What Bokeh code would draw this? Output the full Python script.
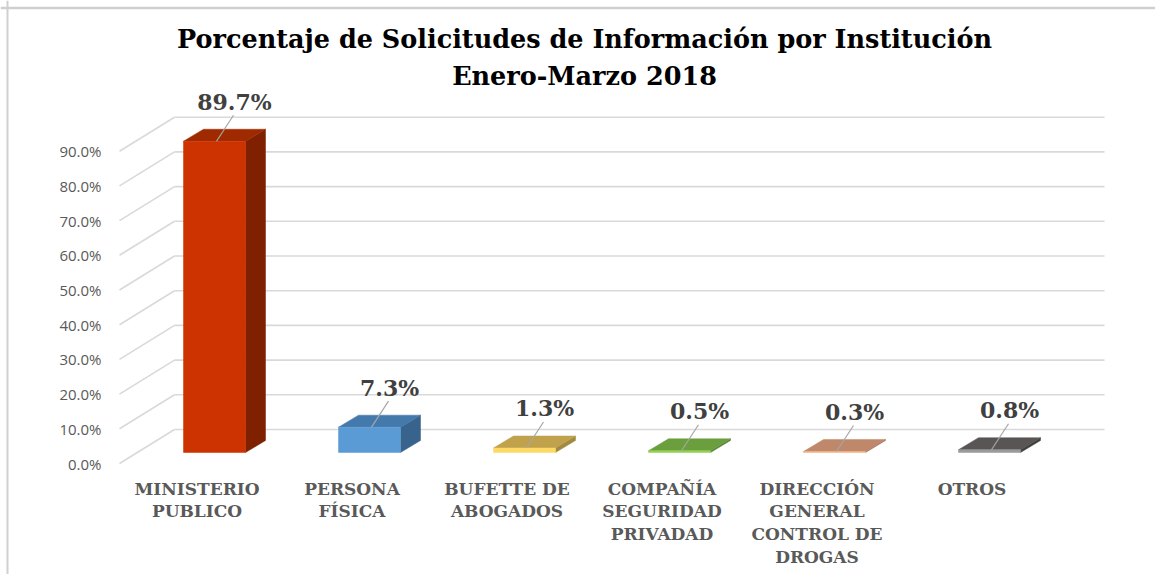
from bokeh.plotting import figure
from bokeh.models import Range1d, Span
from bokeh.core.properties import value
from bokeh.embed import file_html
from bokeh.resources import INLINE

# ---------------- data ----------------
categories = [
    "MINISTERIO\nPUBLICO",
    "PERSONA\nFÍSICA",
    "BUFETTE DE\nABOGADOS",
    "COMPAÑÍA\nSEGURIDAD\nPRIVADAD",
    "DIRECCIÓN\nGENERAL\nCONTROL DE\nDROGAS",
    "OTROS",
]
values = [89.7, 7.3, 1.3, 0.5, 0.3, 0.8]
tick_values = [0, 10, 20, 30, 40, 50, 60, 70, 80, 90]
tick_labels = ["0.0%", "10.0%", "20.0%", "30.0%", "40.0%", "50.0%",
               "60.0%", "70.0%", "80.0%", "90.0%"]
title_lines = ["Porcentaje de Solicitudes de Información por Institución",
               "Enero-Marzo 2018"]

front_colors = ["#cc3300", "#5b9bd5", "#ffd966", "#92d050", "#f4b183", "#9a9a9a"]
top_colors = ["#a02a00", "#4479ab", "#bfa24b", "#6b9f3e", "#c0886a", "#595555"]
side_colors = ["#7f2100", "#38638c", "#a08a40", "#56823a", "#9c6e55", "#3f3f3f"]

# ---------------- geometry (pixel based pseudo-3D) ----------------
W, H = 1155, 574
PXX = 155.0   # px per category
PXY = 3.47    # px per percent point
X0 = 136.5    # figure px of x = 0
Y0 = 452.0    # figure px (from top) of y = 0


def px_x(px):
    return px / PXX


def px_y(px):
    return px / PXY


BW = 0.4                          # bar width (category units)
DX, DY = px_x(20), px_y(12)       # bar depth
FX, FY = -px_x(17.5), -px_y(11)   # front edge of floor / side wall
BX, BY = px_x(37.5), px_y(23)     # back wall

n = len(values)
xs = [i + 0.5 for i in range(n)]

p = figure(width=W, height=H,
           x_range=Range1d(-X0 / PXX, (W - X0) / PXX),
           y_range=Range1d((Y0 - H) / PXY, Y0 / PXY),
           output_backend="svg", toolbar_location=None,
           x_axis_location=None, y_axis_location=None,
           min_border=0)
p.outline_line_color = None
p.background_fill_color = "white"
p.border_fill_color = "white"
for g in p.grid:
    g.visible = False

# chart border (top / left visible inside the window)
p.add_layout(Span(location=(Y0 - 7.5) / PXY, dimension="width",
                  line_color="#cfcfcf", line_width=2.5))
p.add_layout(Span(location=(7 - X0) / PXX, dimension="height",
                  line_color="#d0d0d0", line_width=2))

# gridlines: back wall + side wall diagonals
grid_c = "#d9d9d9"
p.segment(x0=[BX] * len(tick_values), y0=[t + BY for t in tick_values],
          x1=[n + BX] * len(tick_values), y1=[t + BY for t in tick_values],
          line_color=grid_c, line_width=1.6)
p.segment(x0=[FX] * len(tick_values), y0=[t + FY for t in tick_values],
          x1=[BX] * len(tick_values), y1=[t + BY for t in tick_values],
          line_color=grid_c, line_width=1.6)

# tick labels
p.text(x=[FX - px_x(18)] * len(tick_values), y=[t + FY for t in tick_values],
       text=tick_labels, text_align="right", text_baseline="middle",
       text_font=value("Open Sans"), text_font_size="15px",
       text_color="#595959")

# bars
side_xs, side_ys, top_xs, top_ys = [], [], [], []
for x, v in zip(xs, values):
    r = x + BW / 2
    l = x - BW / 2
    side_xs.append([r, r + DX, r + DX, r])
    side_ys.append([0, DY, v + DY, v])
    top_xs.append([l, r, r + DX, l + DX])
    top_ys.append([v, v, v + DY, v + DY])

p.patches(xs=side_xs, ys=side_ys, fill_color=side_colors, line_color=side_colors,
          line_width=0.5)
p.patches(xs=top_xs, ys=top_ys, fill_color=top_colors, line_color=top_colors,
          line_width=0.5)
p.vbar(x=xs, top=values, bottom=0, width=BW, fill_color=front_colors,
       line_color=front_colors, line_width=0.5)

# leader lines and data labels
p.segment(x0=[x + px_x(19) for x in xs], y0=[v + px_y(26) for v in values],
          x1=[x + px_x(2) for x in xs], y1=values,
          line_color="#a6a6a6", line_width=1.2)
p.text(x=[x + px_x(20) for x in xs], y=[v + px_y(39.5) for v in values],
       text=[f"{v:.1f}%" for v in values], text_align="center",
       text_baseline="middle", text_font=value("DejaVu Serif"),
       text_font_style="bold", text_font_size="22px", text_color="#404040")

# category labels
p.text(x=[x + FX for x in xs], y=[-px_y(26)] * n, text=categories,
       text_align="center", text_baseline="top",
       text_font=value("DejaVu Serif"), text_font_style="bold",
       text_font_size="17px", text_color="#595959", text_line_height=1.14)

# title
p.text(x=[(584 - X0) / PXX] * 2, y=[(Y0 - 38) / PXY, (Y0 - 75) / PXY],
       text=title_lines, text_align="center", text_baseline="middle",
       text_font=value("DejaVu Serif"), text_font_style="bold",
       text_font_size="25.5px", text_color="#000000")

open("out.html", "w").write(file_html(p, INLINE))
